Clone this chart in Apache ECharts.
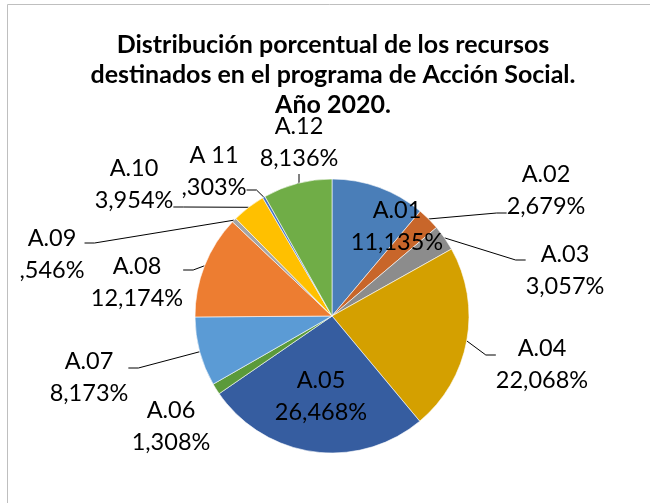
<!DOCTYPE html>
<html>
<head>
<meta charset="utf-8">
<title>Acción Social 2020</title>
<script src="https://cdn.jsdelivr.net/npm/echarts@6/dist/echarts.min.js"></script>
<style>
  html, body { margin: 0; padding: 0; background: #ffffff; }
  #chart { width: 650px; height: 503px; }
</style>
</head>
<body>
<div id="chart"></div>
<script>
// Programme lines and their share of the budget (%)
const categories = ['A.01', 'A.02', 'A.03', 'A.04', 'A.05', 'A.06', 'A.07', 'A.08', 'A.09', 'A.10', 'A 11', 'A.12'];
const shares = [11.135, 2.679, 3.057, 22.068, 26.468, 1.308, 8.173, 12.174, 0.546, 3.954, 0.303, 8.136];

const sliceColors = ['#4a7eb8', '#c8662a', '#8c8c8c', '#d4a000', '#365da0', '#5b9a3a',
                     '#5b9bd5', '#ed7d31', '#a5a5a5', '#ffc000', '#4472c4', '#70ad47'];

const titleLines = ['Distribución porcentual de los recursos',
                    'destinados en el programa de Acción Social.',
                    'Año 2020.'];

// Where each two-line label block is centred, in pixels
const labelSpots = [[397, 226], [546, 190], [565, 270], [542, 364], [321, 396], [171, 426],
                    [89, 377], [137, 282], [52, 254], [134, 184], [214, 171], [299, 142]];
// Vertical offset of the leader-line attachment relative to the block centre
const leaderOffsets = [0, 23, -10, -9, 0, 0, -9, -12, -11, 23, 19, 0];
const insideLabels = ['A.01', 'A.05'];
const unlinkedLabels = ['A.06'];

const LABEL_FONT = 'Lato';
const LABEL_SIZE = 23.5;
const LABEL_LINE = 32;

function formatShare(v) {
  let s = v.toFixed(3).replace('.', ',');
  if (s.charAt(0) === '0') s = s.slice(1);
  return s + '%';
}

const pieData = categories.map(function (name, i) {
  const d = leaderOffsets[i];
  const hideLine = insideLabels.indexOf(name) >= 0 || unlinkedLabels.indexOf(name) >= 0;
  return {
    name: name,
    value: shares[i],
    itemStyle: { color: sliceColors[i] },
    label: {
      rich: {
        t: { fontFamily: LABEL_FONT, fontSize: LABEL_SIZE, lineHeight: LABEL_LINE, color: '#000000' },
        sp: { fontSize: 1, lineHeight: Math.max(1, Math.abs(2 * d)) }
      }
    },
    labelLine: { show: !hideLine }
  };
});

const chart = echarts.init(document.getElementById('chart'), null, { renderer: 'canvas' });

chart.setOption({
  backgroundColor: '#ffffff',
  animation: false,
  graphic: [{
    type: 'rect',
    silent: true,
    shape: { x: 7.5, y: 4.5, width: 700, height: 600 },
    style: { fill: 'none', stroke: '#bfbfbf', lineWidth: 1 }
  }, {
    type: 'text',
    silent: true,
    x: 333,
    y: 30,
    style: {
      text: titleLines.join('\n'),
      align: 'center',
      verticalAlign: 'top',
      fontFamily: 'Lato',
      fontWeight: 'bold',
      fontSize: 25,
      lineHeight: 30,
      fill: '#000000'
    }
  }],
  series: [{
    type: 'pie',
    center: [332, 316],
    radius: 137,
    startAngle: 90,
    clockwise: true,
    avoidLabelOverlap: false,
    itemStyle: { borderColor: '#ffffff', borderWidth: 0.6 },
    label: {
      show: true,
      position: 'outside',
      fontFamily: LABEL_FONT,
      fontSize: LABEL_SIZE,
      lineHeight: LABEL_LINE,
      color: '#000000',
      formatter: function (p) {
        const d = leaderOffsets[p.dataIndex];
        let s = '{t|' + p.name + '}\n{t|' + formatShare(p.value) + '}';
        if (d < 0) s = '{sp| }\n' + s;
        else if (d > 0) s = s + '\n{sp| }';
        return s;
      }
    },
    labelLine: {
      show: true,
      length: 10,
      length2: 10,
      minTurnAngle: 90,
      lineStyle: { color: '#000000', width: 1 }
    },
    labelLayout: function (params) {
      const i = params.dataIndex;
      return {
        x: labelSpots[i][0],
        y: labelSpots[i][1] + leaderOffsets[i],
        align: 'center',
        verticalAlign: 'middle'
      };
    },
    data: pieData
  }]
});
</script>
</body>
</html>
